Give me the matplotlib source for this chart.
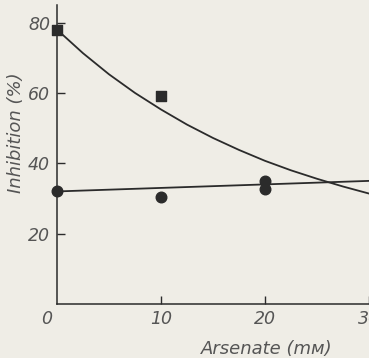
import matplotlib
matplotlib.use("Agg")
import matplotlib.pyplot as plt
import matplotlib.transforms as mtransforms

# measured points
square_x = [0, 10]
square_y = [78, 59]

circle_x = [0, 10, 20, 20]
circle_y = [32, 30.5, 35, 32.7]

# fitted curve through the square points, read along its length
curve_x = [0, 2.5, 5, 7.5, 10, 12.5, 15, 17.5, 20, 22.5, 25, 27.5, 30, 32.5, 35]
curve_y = [78, 71.3, 65.3, 60.0, 55.3, 51.0, 47.2, 43.8, 40.7, 38.0, 35.6, 33.4, 31.4, 29.7, 28.2]

# straight line through the circle points
line_x = [0, 35]
line_y = [32.0, 35.5]

x_ticks = [0, 10, 20, 30]
y_ticks = [20, 40, 60, 80]

ink = "#2b2b2b"
text_color = "#555555"
paper = "#efede6"

plt.rcParams["font.family"] = ["DejaVu Sans"]

fig = plt.figure(figsize=(3.69, 3.58), dpi=100)
fig.patch.set_facecolor(paper)

ax = fig.add_axes([57 / 369, 54 / 358, 364 / 369, 299 / 358])
ax.set_facecolor(paper)

ax.plot(curve_x, curve_y, color=ink, linewidth=1.3, zorder=2)
ax.plot(line_x, line_y, color=ink, linewidth=1.3, zorder=2)

ax.scatter(square_x, square_y, marker="s", s=48, color=ink, zorder=3,
           clip_on=False)
ax.scatter(circle_x, circle_y, marker="o", s=58, color=ink, zorder=3,
           clip_on=False)

ax.set_xlim(0, 35)
ax.set_ylim(0, 85)

for side in ["top", "right"]:
    ax.spines[side].set_visible(False)
for side in ["left", "bottom"]:
    ax.spines[side].set_color(ink)
    ax.spines[side].set_linewidth(1.1)

ax.set_xticks(x_ticks)
ax.set_xticklabels([str(v) for v in x_ticks])
ax.set_yticks(y_ticks)
ax.set_yticklabels([str(v) for v in y_ticks])

ax.tick_params(axis="both", direction="in", length=6, width=1, color=ink,
               labelcolor=text_color, labelsize=12.5)
ax.tick_params(axis="x", pad=4)
ax.tick_params(axis="y", pad=5)

for lbl in ax.get_xticklabels() + ax.get_yticklabels():
    lbl.set_fontstyle("italic")

# origin label sits left of the corner, its tick hidden under the spine
ax.xaxis.get_major_ticks()[0].tick1line.set_visible(False)
shift = mtransforms.ScaledTranslation(-10 / 100, 0, fig.dpi_scale_trans)
zero_lbl = ax.get_xticklabels()[0]
zero_lbl.set_transform(zero_lbl.get_transform() + shift)

ax.set_ylabel("Inhibition (%)", fontsize=13, fontstyle="italic",
              color=text_color)
ax.yaxis.set_label_coords(-0.088, 0.572)
ax.set_xlabel("Arsenate (mᴍ)", fontsize=13, fontstyle="italic",
              color=text_color)
ax.xaxis.set_label_coords(0.577, -0.122)

fig.savefig("out.png", dpi=100, facecolor=paper)
